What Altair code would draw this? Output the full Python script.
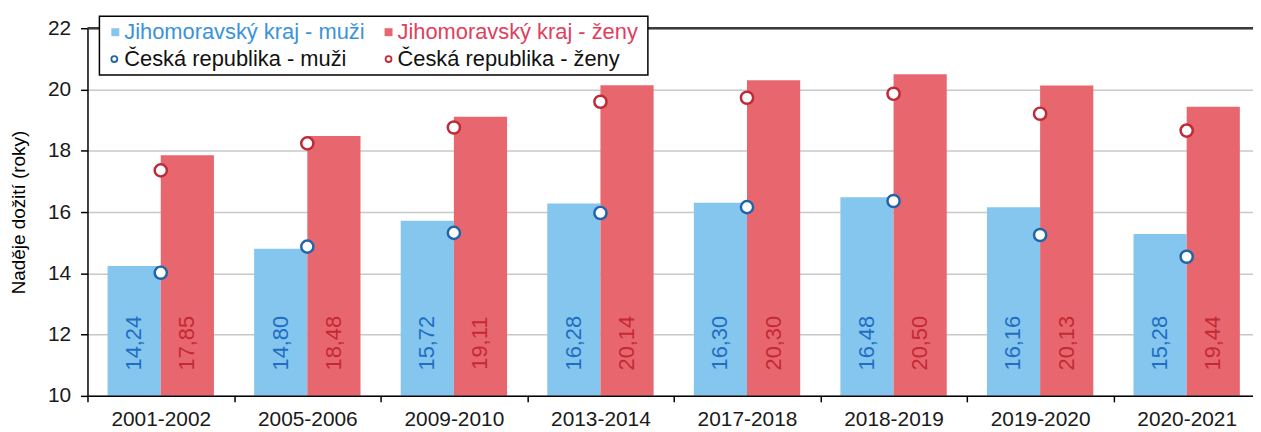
import altair as alt
import pandas as pd

categories = ["2001-2002", "2005-2006", "2009-2010", "2013-2014",
              "2017-2018", "2018-2019", "2019-2020", "2020-2021"]
jm_muzi = [14.24, 14.80, 15.72, 16.28, 16.30, 16.48, 16.16, 15.28]
jm_zeny = [17.85, 18.48, 19.11, 20.14, 20.30, 20.50, 20.13, 19.44]
cr_muzi = [14.02, 14.87, 15.32, 15.97, 16.16, 16.36, 15.25, 14.54]
cr_zeny = [17.36, 18.24, 18.76, 19.60, 19.73, 19.86, 19.21, 18.66]
sexes = ["muži", "ženy"]
legend_labels = ["Jihomoravský kraj  - muži", "Jihomoravský kraj - ženy",
                 "Česká republika - muži", "Česká republika - ženy"]
y_ticks = [10, 12, 14, 16, 18, 20, 22]

FONT = "Liberation Sans"
W, H = 1173, 370      # visible plot area (the original is cropped on the right)
X_RANGE = 1180        # full extent of the category scale

bars_df = pd.DataFrame({
    "obdobi": categories * 2,
    "pohlavi": [sexes[0]] * len(categories) + [sexes[1]] * len(categories),
    "hodnota": jm_muzi + jm_zeny,
})
pts_df = pd.DataFrame({
    "obdobi": categories * 2,
    "pohlavi": [sexes[0]] * len(categories) + [sexes[1]] * len(categories),
    "hodnota": cr_muzi + cr_zeny,
})

x_enc = alt.X("obdobi:N", sort=categories,
              scale=alt.Scale(paddingInner=0, paddingOuter=0, range=[0, X_RANGE]),
              axis=alt.Axis(title=None, tickBand="extent", labelAngle=0,
                            labelFont=FONT, labelFontSize=21, labelColor="#1a1a1a",
                            domainColor="#000000", domainWidth=1.5,
                            tickColor="#000000", tickSize=6, tickWidth=1.5,
                            labelPadding=7, zindex=1, grid=False))
y_scale = alt.Scale(domain=[10, 22], nice=False, zero=False)
y_enc = alt.Y("hodnota:Q", scale=y_scale,
              axis=alt.Axis(values=y_ticks, title="Naděje dožití (roky)",
                            titleFont=FONT, titleFontSize=19, titleFontWeight="normal",
                            titleColor="#000000", titlePadding=19,
                            labelFont=FONT, labelFontSize=21, labelColor="#1a1a1a",
                            labelPadding=10, domainColor="#000000", domainWidth=1.5,
                            tickColor="#000000", tickSize=7, tickWidth=1.5,
                            grid=True, gridColor="#c8c8c8", gridWidth=1.5))
xo_enc = alt.XOffset("pohlavi:N", sort=sexes,
                     scale=alt.Scale(paddingInner=0, paddingOuter=0.378))

base = alt.Chart(bars_df)

bars = base.mark_bar(clip=True).encode(
    x=x_enc, y=y_enc, xOffset=xo_enc,
    fill=alt.Fill("pohlavi:N", scale=alt.Scale(domain=sexes, range=["#85c6ee", "#e8676f"]), legend=None),
)

labels = base.transform_calculate(
    lbl="replace(format(datum.hodnota, '.2f'), '.', ',')"
).mark_text(angle=270, align="center", baseline="middle", font=FONT, fontSize=22).encode(
    x=x_enc, xOffset=xo_enc,
    y=alt.datum(11.72, scale=y_scale),
    text="lbl:N",
    color=alt.Color("pohlavi:N", scale=alt.Scale(domain=sexes, range=["#1f6ec4", "#c42a33"]), legend=None),
)

points = alt.Chart(pts_df).mark_point(shape="circle", fill="white", filled=False, opacity=1,
                                      size=150, strokeWidth=2.5).encode(
    x=x_enc, y=y_enc,
    stroke=alt.Stroke("pohlavi:N", scale=alt.Scale(domain=sexes, range=["#2165a8", "#be2a36"]), legend=None),
)

top_rule = alt.Chart(pd.DataFrame({"v": [y_ticks[-1]]})).mark_rule(color="#3c3c3c", strokeWidth=2.5).encode(
    y=alt.Y("v:Q", scale=y_scale)
)

# legend (drawn manually so each entry keeps its own text colour)
one = pd.DataFrame({"k": [0]})
leg_box = alt.Chart(one).mark_rect(fill="white", stroke="#000000", strokeWidth=1.5).encode(
    x=alt.value(12), x2=alt.value(564), y=alt.value(-12), y2=alt.value(47))

def leg_sym(shape, fill, stroke, size, sw, px, py):
    return alt.Chart(one).mark_point(shape=shape, fill=fill, stroke=stroke, size=size,
                                     strokeWidth=sw, opacity=1, filled=False).encode(
        x=alt.value(px), y=alt.value(py))

def leg_txt(txt, color, px, py):
    return alt.Chart(pd.DataFrame({"t": [txt]})).mark_text(
        align="left", baseline="middle", font=FONT, fontSize=22, color=color).encode(
        x=alt.value(px), y=alt.value(py), text="t:N")

legend_layers = [
    leg_box,
    leg_sym("square", "#85c6ee", "#85c6ee", 64, 0, 28, 4),
    leg_txt(legend_labels[0], "#3a93da", 37, 4),
    leg_sym("square", "#e8676f", "#e8676f", 64, 0, 303, 4),
    leg_txt(legend_labels[1], "#e0405c", 312, 4),
    leg_sym("circle", "white", "#2165a8", 36, 1.8, 27, 31),
    leg_txt(legend_labels[2], "#111111", 37, 31),
    leg_sym("circle", "white", "#be2a36", 36, 1.8, 303, 31),
    leg_txt(legend_labels[3], "#111111", 312, 31),
]

chart = alt.layer(bars, labels, top_rule, points, *legend_layers).properties(
    width=W, height=H,
    autosize=alt.AutoSizeParams(type="none"),
    padding={"left": 80, "top": 19, "right": 0, "bottom": 34},
    background="white",
).configure_view(stroke=None)

chart.save("out.html", embed_options={"renderer": "svg", "actions": False})
